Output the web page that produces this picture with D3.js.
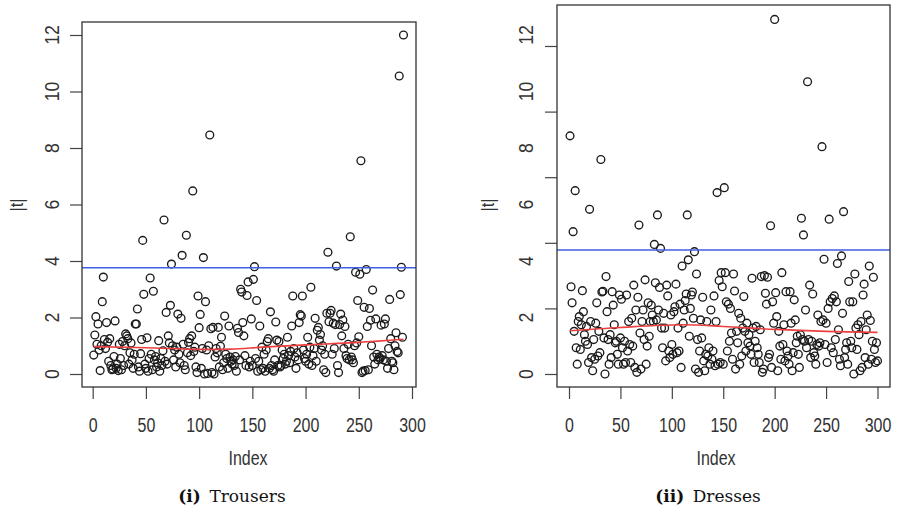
<!DOCTYPE html>
<html>
<head>
<meta charset="utf-8">
<title>|t| by index: Trousers and Dresses</title>
<script src="https://d3js.org/d3.v7.min.js"></script>
<style>
  body { margin: 0; background: #fff; }
  svg text { fill: #333; }
  .tick line { stroke: #444; stroke-width: 1.2; }
</style>
</head>
<body>
<svg id="chart" width="899" height="512"></svg>
<script>
// |t| values, one per index (1..n)
var trousers = [
  0.67, 1.38, 2.03, 1.05, 1.77, 0.85, 0.12, 1.0, 2.56, 3.43,
  1.22, 0.9, 1.82, 1.12, 0.45, 1.25, 0.3, 0.15, 0.18, 0.62,
  1.88, 0.2, 0.35, 0.12, 1.05, 0.55, 0.15, 1.15, 0.3, 1.0,
  1.42, 1.35, 1.25, 0.35, 0.75, 1.1, 0.5, 0.2, 0.7, 1.77,
  1.77, 2.3, 0.25, 0.1, 0.72, 1.22, 4.73, 2.82, 0.35, 0.2,
  1.28, 0.1, 0.55, 3.4, 0.7, 0.15, 2.93, 0.5, 0.62, 0.25,
  0.4, 1.18, 0.1, 0.55, 0.3, 0.82, 5.45, 0.45, 2.18, 0.35,
  1.35, 1.1, 2.43, 3.89, 1.0, 0.5, 0.85, 0.25, 0.95, 2.12,
  0.7, 0.4, 1.97, 4.2, 1.05, 0.3, 0.15, 4.91, 0.75, 1.12,
  1.25, 0.65, 1.35, 6.48, 0.8, 0.95, 0.25, 0.05, 2.76, 1.64,
  2.11, 0.2, 0.9, 4.12, 0.0, 2.56, 0.85, 0.02, 1.0, 8.46,
  1.6, 0.05, 1.65, 0.0, 0.6, 0.9, 0.75, 1.65, 0.25, 0.98,
  1.3, 0.15, 0.4, 2.05, 0.7, 0.55, 0.2, 1.7, 0.6, 0.45,
  0.35, 0.5, 0.3, 0.62, 0.1, 1.62, 1.47, 0.5, 3.0, 2.9,
  1.82, 1.35, 0.65, 0.3, 2.78, 3.26, 0.25, 0.45, 1.95, 0.3,
  3.35, 3.8, 0.55, 2.6, 0.1, 0.45, 1.7, 0.15, 0.95, 0.2,
  0.7, 0.1, 0.85, 1.15, 1.25, 0.2, 2.2, 0.3, 0.15, 0.1,
  0.5, 1.84, 1.2, 0.3, 1.15, 0.25, 0.3, 0.85, 0.55, 0.7,
  0.35, 0.45, 1.3, 0.65, 0.4, 0.8, 1.7, 2.76, 0.9, 0.6,
  0.2, 0.75, 0.5, 1.82, 2.1, 2.05, 2.76, 0.85, 0.55, 0.45,
  0.7, 1.3, 0.35, 0.95, 3.07, 0.3, 0.65, 0.9, 1.97, 0.45,
  1.55, 1.65, 1.2, 1.4, 0.85, 1.0, 0.15, 0.7, 0.05, 2.15,
  4.31, 1.85, 2.15, 2.25, 0.7, 1.8, 0.9, 1.75, 3.82, 0.3,
  0.05, 1.75, 2.12, 1.35, 1.91, 0.9, 1.68, 0.65, 0.55, 1.05,
  0.5, 4.86, 0.6, 0.5, 0.4, 1.0, 3.6, 1.1, 2.6, 1.32,
  3.53, 7.55, 0.05, 0.1, 2.36, 0.12, 3.7, 1.68, 0.15, 2.32,
  1.9, 1.0, 2.97, 0.6, 0.35, 1.95, 0.7, 0.5, 0.6, 0.55,
  1.73, 0.65, 0.5, 1.77, 1.95, 0.45, 0.2, 0.9, 2.64, 1.25,
  0.45, 0.4, 0.15, 1.0, 1.46, 0.8, 0.75, 10.55, 2.81, 3.78,
  1.3, 12.0
];

var dresses = [
  7.26, 2.66, 2.17, 4.34, 1.3, 5.59, 0.8, 0.3, 1.6, 1.75,
  0.75, 1.5, 2.54, 1.9, 1.2, 1.0, 1.45, 0.9, 0.35, 5.02,
  1.6, 0.5, 0.1, 1.05, 0.45, 1.55, 2.17, 0.55, 1.3, 0.65,
  6.54, 2.5, 2.52, 1.1, 0.0, 2.97, 1.9, 1.05, 0.3, 1.2,
  0.5, 2.51, 2.1, 1.5, 0.95, 1.0, 0.6, 0.3, 2.41, 1.1,
  2.28, 0.8, 0.3, 1.0, 0.35, 2.41, 0.7, 1.6, 0.9, 0.35,
  1.7, 0.85, 2.71, 0.2, 1.95, 0.05, 2.34, 4.54, 1.25, 0.15,
  1.6, 1.95, 1.05, 2.87, 0.3, 0.85, 2.17, 1.15, 1.6, 2.1,
  1.8, 1.6, 3.95, 2.78, 1.65, 4.85, 1.95, 2.64, 3.83, 1.4,
  0.8, 1.85, 1.4, 0.4, 2.71, 2.38, 0.7, 0.5, 1.8, 0.9,
  0.6, 1.9, 2.05, 2.74, 0.65, 1.4, 0.7, 2.13, 0.2, 3.29,
  1.55, 1.95, 2.24, 2.44, 4.85, 3.48, 1.15, 2.0, 2.41, 2.5,
  1.7, 3.73, 0.15, 3.05, 1.05, 0.05, 0.7, 1.65, 1.1, 2.34,
  0.4, 0.1, 0.6, 1.6, 0.55, 0.8, 0.3, 1.95, 0.45, 0.7,
  2.38, 0.25, 1.6, 5.53, 0.3, 2.85, 0.35, 3.09, 2.66, 0.3,
  5.68, 3.09, 2.2, 0.7, 2.13, 1.0, 2.0, 1.25, 0.45, 3.05,
  2.53, 0.15, 1.3, 0.95, 1.85, 0.3, 1.7, 0.55, 1.4, 2.36,
  1.3, 0.7, 1.55, 0.95, 1.2, 0.85, 0.6, 2.92, 1.4, 0.35,
  1.0, 1.45, 0.8, 0.6, 0.35, 1.35, 2.97, 0.05, 0.15, 3.0,
  2.46, 2.13, 2.95, 0.5, 0.6, 4.52, 0.2, 2.2, 1.55, 10.81,
  2.48, 1.75, 0.1, 1.3, 0.85, 0.45, 3.09, 0.9, 1.5, 0.4,
  2.51, 0.7, 0.55, 0.3, 2.51, 1.55, 0.1, 0.65, 2.26, 1.65,
  0.95, 1.15, 0.6, 0.2, 1.2, 4.75, 1.05, 4.24, 1.0, 1.95,
  0.8, 8.91, 1.05, 2.71, 0.5, 1.0, 2.44, 0.65, 0.55, 0.3,
  0.9, 1.8, 0.85, 0.95, 1.6, 6.93, 1.65, 3.5, 0.9, 1.55,
  0.35, 2.0, 4.72, 2.2, 0.8, 2.3, 0.65, 2.38, 1.05, 2.2,
  3.37, 1.35, 0.45, 0.25, 3.6, 1.85, 4.95, 0.5, 0.75, 0.95,
  0.3, 2.82, 2.2, 1.0, 0.8, 2.2, 0.0, 3.05, 1.4, 0.75,
  1.5, 1.2, 0.1, 1.6, 0.2, 2.41, 2.74, 0.5, 1.35, 1.8,
  0.3, 3.29, 1.63, 0.45, 1.0, 2.95, 0.75, 0.35, 0.95, 0.4
];

// lowess curves (red) and threshold (blue)
var trousersSmooth = [[1, 0.97], [50, 0.93], [100, 0.87], [130, 0.88], [160, 0.95], [200, 1.03], [250, 1.12], [292, 1.23]];
var dressesSmooth = [[1, 1.32], [50, 1.42], [110, 1.5], [150, 1.45], [200, 1.36], [250, 1.3], [300, 1.27]];
var trousersCut = 3.76;
var dressesCut = 3.78;

var xTicks = [0, 50, 100, 150, 200, 250, 300];
var yLabels = [0, 2, 4, 6, 8, 10, 12];
var dressTicks = [0, 2, 4, 6, 8, 10];

var svg = d3.select("#chart");

function panel(o) {
  var g = svg.append("g");

  var x = d3.scaleLinear().domain([0, 300]).range([o.x0, o.x300]);
  var y = d3.scaleLinear().domain([0, o.yTop]).range([374, o.yTopPx]);
  // the y labels sit on their own spacing in the picture
  var yLab = d3.scaleLinear().domain([0, 12]).range([374, 35]);

  // x axis
  var xa = g.append("g")
    .attr("transform", "translate(0," + o.boxBottom + ")")
    .call(d3.axisBottom(x).tickValues(xTicks).tickSize(12).tickSizeOuter(0));
  xa.select(".domain").remove();
  xa.selectAll("text")
    .attr("y", 0).attr("dy", 0)
    .attr("transform", "translate(0,45) scale(1,1.3)")
    .style("font-family", "Liberation Sans, Arial, sans-serif")
    .style("font-size", "16px")
    .style("fill", "#333");

  // y axis ticks
  var ya = g.append("g")
    .attr("transform", "translate(" + o.boxLeft + ",0)")
    .call(d3.axisLeft(y).tickValues(o.yTicks).tickSize(12).tickFormat(""));
  ya.select(".domain").remove();

  // y labels (rotated, R style)
  g.selectAll(".ylab")
    .data(yLabels)
    .enter().append("text")
    .attr("class", "ylab")
    .attr("transform", function(d) { return "translate(" + o.labX + "," + yLab(d) + ") rotate(-90) scale(1.1,1.25)"; })
    .attr("text-anchor", "middle")
    .attr("dy", "0.36em")
    .style("font-family", "Liberation Sans, Arial, sans-serif")
    .style("font-size", "16px")
    .text(function(d) { return d; });

  // points
  g.selectAll("circle")
    .data(o.values)
    .enter().append("circle")
    .attr("cx", function(d, i) { return x(i + 1); })
    .attr("cy", function(d) { return y(d); })
    .attr("r", 3.9)
    .attr("fill", "none")
    .attr("stroke", "#1a1a1a")
    .attr("stroke-width", 1.35);

  // lowess
  g.append("path")
    .datum(o.smooth)
    .attr("d", d3.line().x(function(d) { return x(d[0]); }).y(function(d) { return y(d[1]); }).curve(d3.curveCatmullRom))
    .attr("fill", "none")
    .attr("stroke", "#ec4040")
    .attr("stroke-width", 1.6);

  // threshold
  g.append("line")
    .attr("x1", o.boxLeft).attr("x2", o.boxRight)
    .attr("y1", y(o.cut)).attr("y2", y(o.cut))
    .attr("stroke", "#3f5fe6")
    .attr("stroke-width", 1.6);

  // box
  g.append("rect")
    .attr("x", o.boxLeft).attr("y", o.boxTop)
    .attr("width", o.boxRight - o.boxLeft).attr("height", o.boxBottom - o.boxTop)
    .attr("fill", "none")
    .attr("stroke", "#333")
    .attr("stroke-width", 1.3);

  // axis titles
  g.append("text")
    .attr("transform", "translate(" + o.indexX + ",465) scale(1,1.3)")
    .attr("text-anchor", "middle")
    .style("font-family", "Liberation Sans, Arial, sans-serif")
    .style("font-size", "16px")
    .text("Index");

  g.append("text")
    .attr("transform", "translate(" + o.tX + ",205) rotate(-90) scale(1,1.2)")
    .attr("text-anchor", "middle")
    .attr("dy", "0.36em")
    .style("font-family", "Liberation Sans, Arial, sans-serif")
    .style("font-size", "16px")
    .text("|t|");

  // caption
  var cap = g.append("text")
    .attr("x", o.capX).attr("y", 502)
    .attr("text-anchor", "middle")
    .style("font-family", "DejaVu Serif, serif")
    .style("font-size", "17px")
    .style("fill", "#111");
  cap.append("tspan").style("font-weight", "bold").text(o.capTag);
  cap.append("tspan").text("\u2002" + o.capName);
}

panel({
  values: trousers, smooth: trousersSmooth, cut: trousersCut,
  x0: 92.7, x300: 412, yTop: 12, yTopPx: 35, yTicks: yLabels,
  boxLeft: 82, boxRight: 416, boxTop: 22, boxBottom: 387,
  labX: 52, indexX: 248, tX: 16, capX: 232,
  capTag: "(i)", capName: "Trousers"
});

panel({
  values: dresses, smooth: dressesSmooth, cut: dressesCut,
  x0: 569, x300: 877.5, yTop: 10, yTopPx: 46, yTicks: dressTicks,
  boxLeft: 557, boxRight: 890, boxTop: 5, boxBottom: 387,
  labX: 526, indexX: 716, tX: 487, capX: 708,
  capTag: "(ii)", capName: "Dresses"
});
</script>
</body>
</html>
